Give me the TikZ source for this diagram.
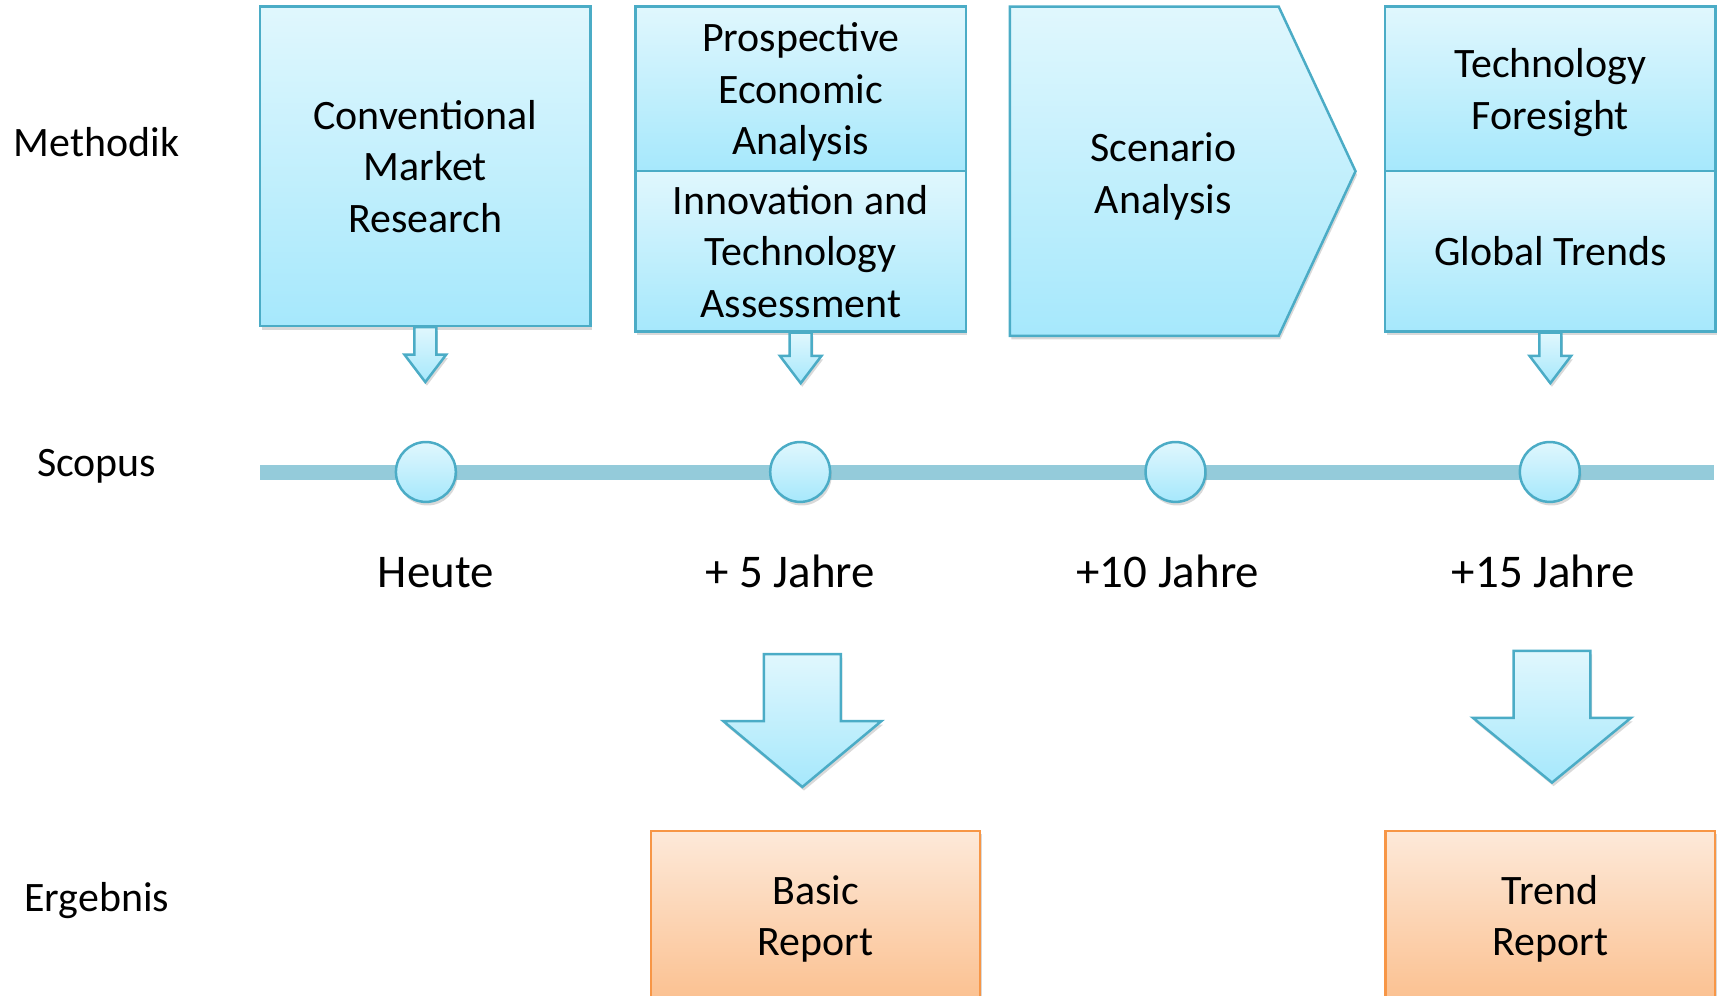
\documentclass[tikz,border=0pt]{standalone}
\usepackage{fontspec}
\setmainfont{Carlito}
\usetikzlibrary{positioning,shadows}

\definecolor{cyanlight}{RGB}{224,247,253}
\definecolor{cyandeep}{RGB}{166,232,252}
\definecolor{cyanedge}{RGB}{75,172,198}
\definecolor{orangelight}{RGB}{253,233,217}
\definecolor{orangedeep}{RGB}{251,193,145}
\definecolor{orangeedge}{RGB}{247,150,70}
\definecolor{axisblue}{RGB}{148,203,218}

% block arrow pointing down: start, shaft half width, head half width, shaft length, head length
\newcommand{\blockdown}[5]{%
  \draw[flow arrow] (#1) ++(-#2,0) -- ++(0,#4) -- ++(#2-#3,0) -- ++(#3,#5)
    -- ++(#3,-#5) -- ++(#2-#3,0) -- ++(0,-#4) -- cycle;}

\begin{document}
\begin{tikzpicture}[x=0.55pt,y=-0.55pt,
  box font/.style={font=\fontsize{21}{25.8}\selectfont},
  soft shadow/.style={drop shadow={shadow xshift=0.8pt,shadow yshift=-1.8pt,opacity=0.3}},
  cyan fill/.style={draw=cyanedge,line width=1.25pt,top color=cyanlight,bottom color=cyandeep},
  method node/.style={rectangle,cyan fill,soft shadow,box font,align=center,
    minimum width=165.5pt,inner sep=2pt,text depth=0pt},
  report node/.style={rectangle,draw=orangeedge,line width=1.25pt,top color=orangelight,
    bottom color=orangedeep,soft shadow,box font,align=center,text depth=0pt,
    minimum width=165pt,minimum height=84.7pt},
  row label/.style={box font,anchor=base},
  year dot/.style={circle,cyan fill,soft shadow,minimum size=30pt,inner sep=0pt},
  year label/.style={font=\fontsize{23.5}{28}\selectfont,anchor=base},
  flow arrow/.style={cyan fill,line join=miter,soft shadow}]

  \useasboundingbox (0,0) rectangle (1568,907);

  % row titles
  \node[row label] (methodik) at (88,143) {Methodik};
  \node[row label] (scopus) at (88,434) {Scopus};
  \node[row label] (ergebnis) at (88,830) {Ergebnis};

  % methods
  \node[method node,minimum height=160pt] (cmr) at (387.5,151.5) {Conventional\\Market\\Research};
  \node[method node,minimum height=82.5pt] (pea) at (729.5,81) {Prospective\\Economic\\Analysis};
  \node[method node,minimum height=80.3pt,below=-1.25pt of pea] (ita) {Innovation and\\Technology\\Assessment};
  \draw[cyan fill,soft shadow] (920,6) -- (1165,6) -- (1235,156) -- (1165,306) -- (920,306) -- cycle;
  \node[box font,align=center,text depth=0pt] (sca) at (1060,157.5) {Scenario\\Analysis};
  \node[method node,minimum height=82.5pt] (tf) at (1412.5,81) {Technology\\Foresight};
  \node[method node,minimum height=80.3pt,below=-1.25pt of tf] (gt) {Global Trends};

  \blockdown{cmr.south}{10}{19}{25}{25}
  \blockdown{ita.south}{10}{19}{21}{25}
  \blockdown{gt.south}{10}{19}{21}{25}

  % time axis
  \coordinate (axis start) at (237,430.5);
  \coordinate (axis end) at (1562,430.5);
  \draw[axisblue,line width=7.4pt] (axis start) -- (axis end);
  \foreach \x/\n/\t/\lx in {388/1/Heute/397, 729/2/+ 5 Jahre/720,
      1071/3/+10 Jahre/1064, 1412/4/+15 Jahre/1406} {
    \node[year dot] (c\n) at (\x,430) {};
    \node[year label] (y\n) at (\lx,535) {\t};
  }

  % results
  \coordinate (br arrow) at (731,596);
  \coordinate (tr arrow) at (1414,593);
  \blockdown{br arrow}{35}{72}{61}{60}
  \blockdown{tr arrow}{35}{72}{61}{59}
  \node[report node] (br) at (743,834) {Basic\\Report};
  \node[report node] (tr) at (1412.5,834) {Trend\\Report};
\end{tikzpicture}
\end{document}
